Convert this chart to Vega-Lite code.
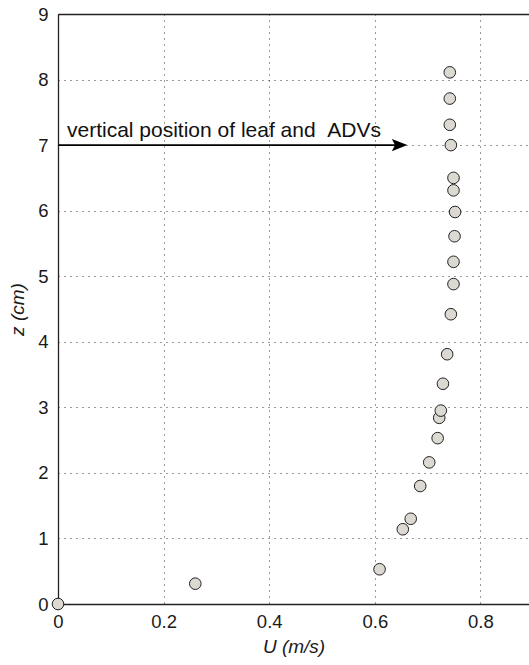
{
  "$schema": "https://vega.github.io/schema/vega-lite/v6.json",
  "width": 471,
  "height": 590,
  "autosize": "none",
  "padding": {"left": 58, "top": 14, "right": 0, "bottom": 61},
  "background": "white",
  "config": {
    "view": {"stroke": null},
    "font": "Liberation Sans",
    "axis": {
      "labelFont": "Liberation Sans",
      "labelFontSize": 18.5,
      "labelColor": "#1a1a1a",
      "labelFlush": false,
      "titleFont": "Liberation Sans",
      "titleFontSize": 19,
      "titleFontStyle": "italic",
      "titleFontWeight": "normal",
      "titleColor": "#1a1a1a",
      "domainColor": "#222222",
      "domainWidth": 1.3,
      "ticks": false,
      "gridColor": "#222222",
      "gridDash": [1, 5],
      "gridOpacity": 0.9,
      "gridWidth": 1
    }
  },
  "resolve": {"axis": {"x": "independent"}},
  "layer": [
    {
      "data": {"values": [
        {"U": 0, "z": 0},
        {"U": 0.26, "z": 0.31},
        {"U": 0.609, "z": 0.53},
        {"U": 0.653, "z": 1.14},
        {"U": 0.668, "z": 1.30},
        {"U": 0.686, "z": 1.80},
        {"U": 0.703, "z": 2.16},
        {"U": 0.719, "z": 2.53},
        {"U": 0.722, "z": 2.84},
        {"U": 0.725, "z": 2.95},
        {"U": 0.729, "z": 3.36},
        {"U": 0.737, "z": 3.81},
        {"U": 0.744, "z": 4.42},
        {"U": 0.749, "z": 4.88},
        {"U": 0.749, "z": 5.22},
        {"U": 0.751, "z": 5.61},
        {"U": 0.752, "z": 5.98},
        {"U": 0.749, "z": 6.31},
        {"U": 0.749, "z": 6.50},
        {"U": 0.744, "z": 7.00},
        {"U": 0.742, "z": 7.31},
        {"U": 0.742, "z": 7.71},
        {"U": 0.742, "z": 8.11}
      ]},
      "mark": {"type": "circle", "fill": "#dcd9d3", "stroke": "#222222", "strokeWidth": 1, "size": 135, "opacity": 1},
      "encoding": {
        "x": {"field": "U", "type": "quantitative",
          "scale": {"domain": [0, 0.892], "nice": false, "zero": false},
          "axis": {"orient": "bottom", "values": [0, 0.2, 0.4, 0.6, 0.8], "title": "U (m/s)", "labelPadding": 8, "titlePadding": 7, "grid": true, "format": "~g"}},
        "y": {"field": "z", "type": "quantitative",
          "scale": {"domain": [0, 9], "nice": false, "zero": false},
          "axis": {"values": [0, 1, 2, 3, 4, 5, 6, 7, 8, 9], "format": "d", "title": "z (cm)", "labelPadding": 10, "titlePadding": 10, "grid": true}}
      }
    },
    {
      "data": {"values": [{"x0": 0, "x1": 0.64, "z": 7}]},
      "mark": {"type": "rule", "color": "#000000", "strokeWidth": 1.6},
      "encoding": {
        "x": {"field": "x0", "type": "quantitative", "axis": null},
        "x2": {"field": "x1"},
        "y": {"field": "z", "type": "quantitative"}
      }
    },
    {
      "data": {"values": [{"x": 0.647, "z": 7}]},
      "mark": {"type": "point", "shape": "M-1,-0.8L1,0L-1,0.8L-0.6,0Z", "filled": true, "color": "#000000", "opacity": 1, "size": 240},
      "encoding": {
        "x": {"field": "x", "type": "quantitative", "axis": null},
        "y": {"field": "z", "type": "quantitative"}
      }
    },
    {
      "data": {"values": [{"x": 0.017, "z": 7, "label": "vertical position of leaf and \u00a0ADVs"}]},
      "mark": {"type": "text", "align": "left", "baseline": "alphabetic", "dy": -8, "fontSize": 21, "font": "Liberation Sans", "color": "#111111"},
      "encoding": {
        "x": {"field": "x", "type": "quantitative",
          "axis": {"orient": "top", "labels": false, "grid": false, "ticks": false, "title": null, "domain": true}},
        "y": {"field": "z", "type": "quantitative"},
        "text": {"field": "label"}
      }
    }
  ]
}
